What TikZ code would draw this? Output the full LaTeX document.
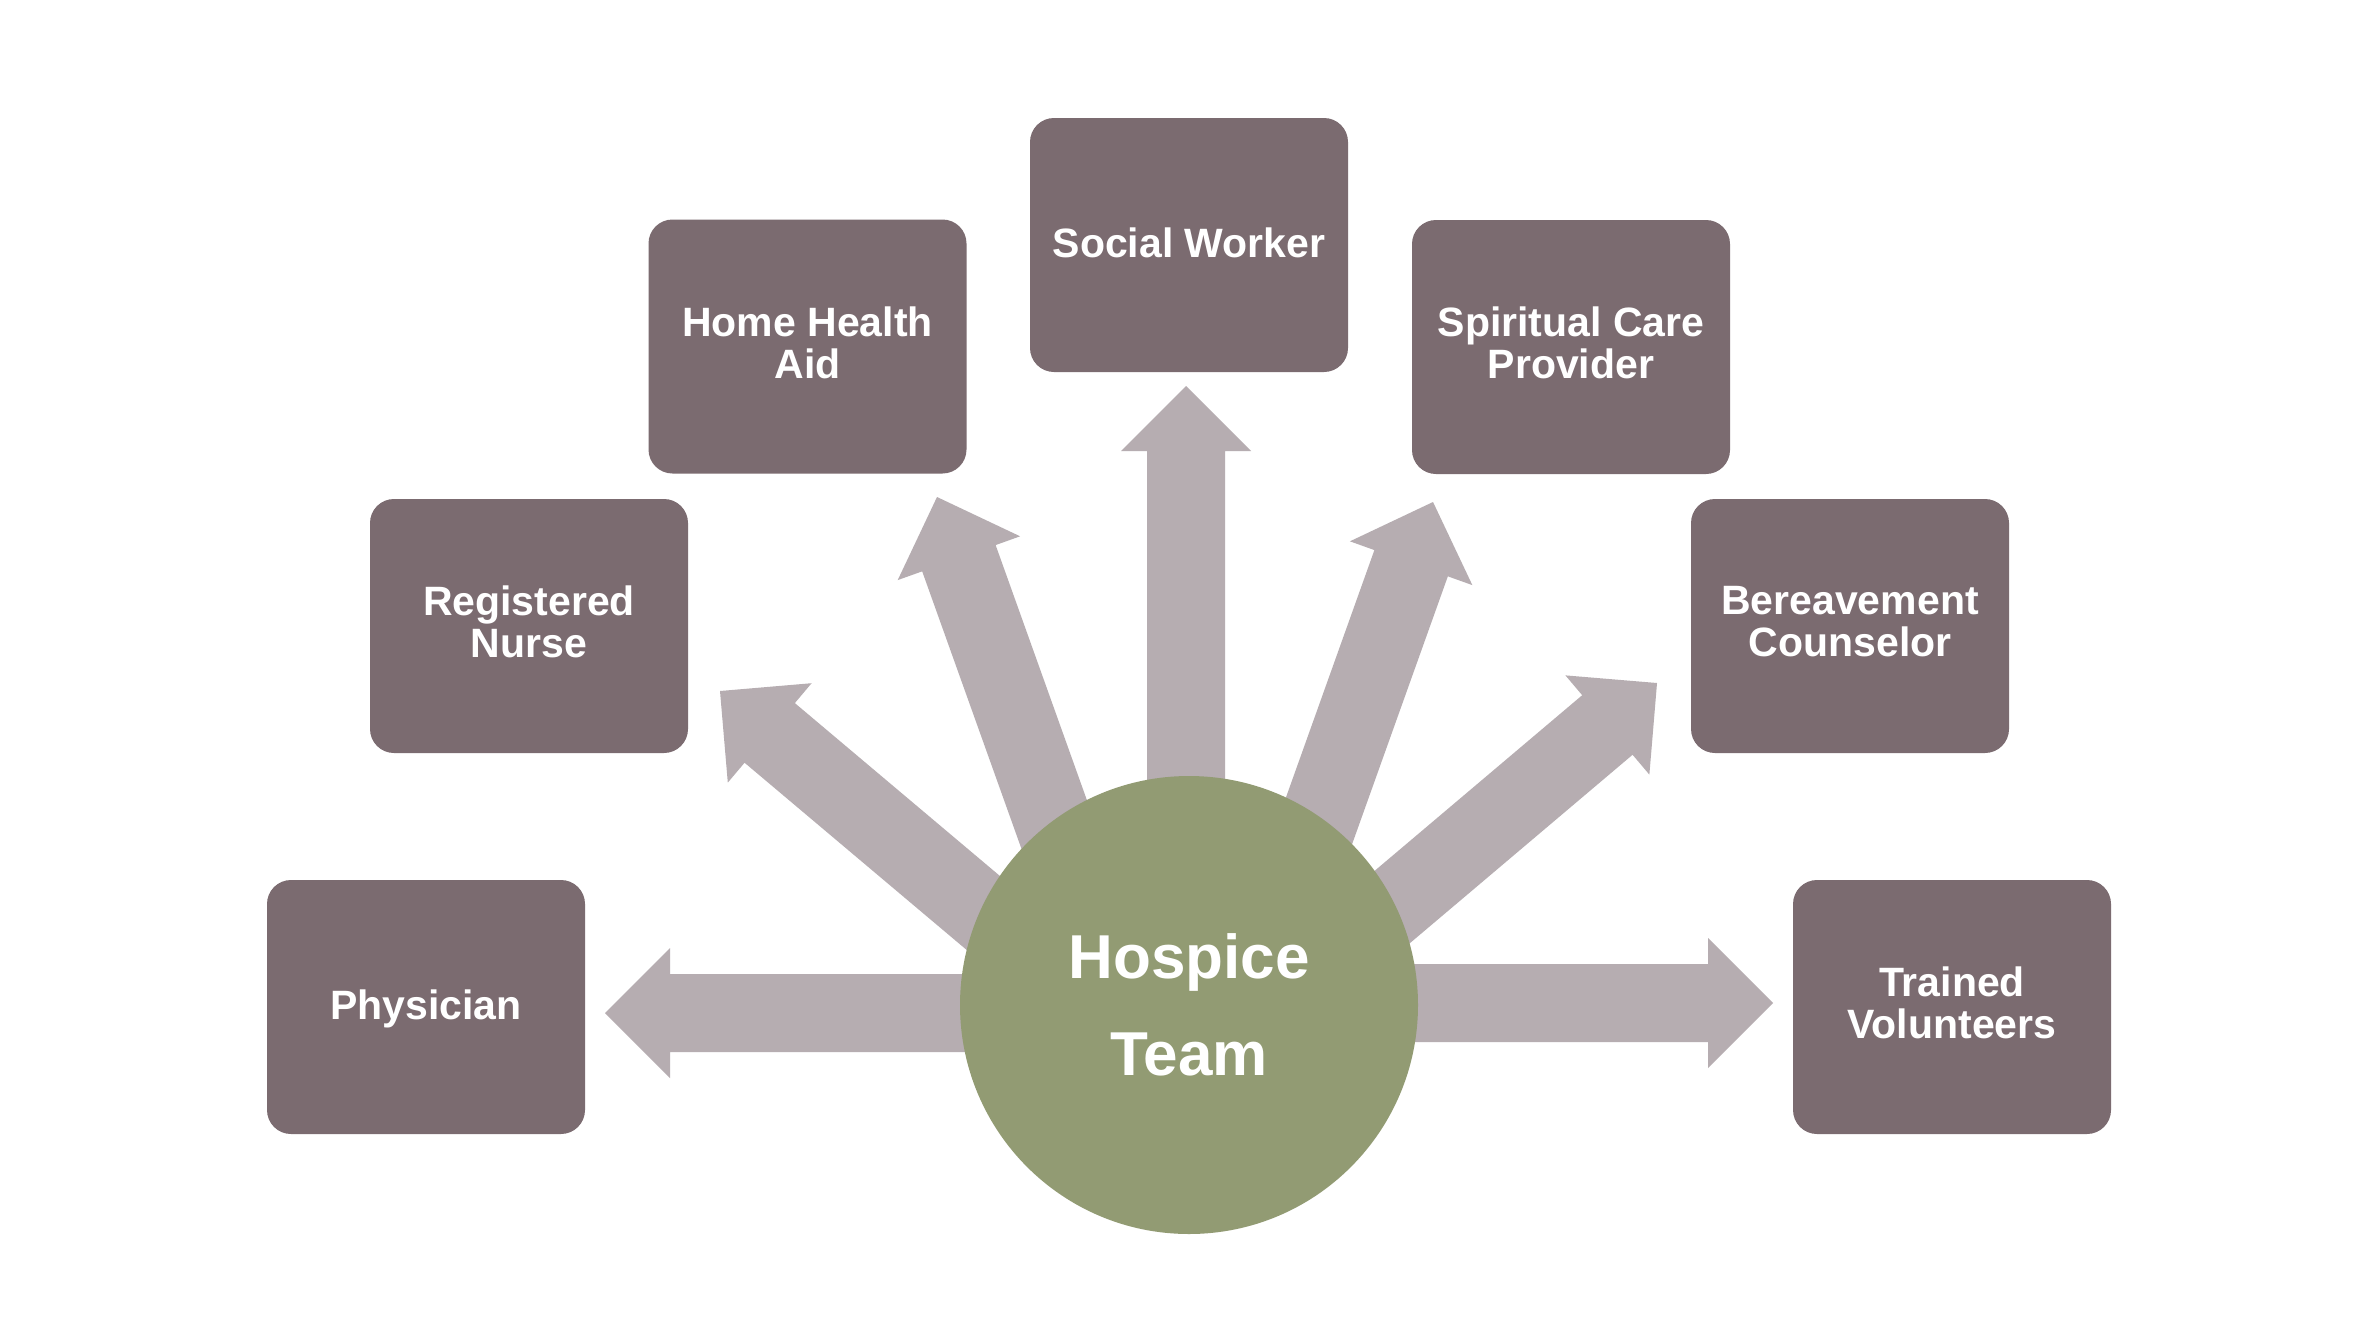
\documentclass[tikz,border=0pt]{standalone}
\usepackage{fontspec}
\setmainfont{Liberation Sans}
\usetikzlibrary{calc}
\definecolor{boxc}{HTML}{7B6B70}
\definecolor{arrowc}{HTML}{B6ADB1}
\definecolor{hubc}{HTML}{929B73}
\tikzset{
  rolebox/.style={fill=boxc, rounded corners=24pt, minimum width=318pt, minimum height=254pt,
    inner sep=0pt},
  roletext/.style={inner sep=0pt, align=center, text=white, yshift=4pt,
    font=\bfseries\fontsize{41}{42}\selectfont},
  hubnode/.style={circle, fill=hubc, minimum size=458pt, inner sep=0pt, align=center,
    text=white, font=\bfseries\fontsize{62}{97}\selectfont},
  blockarrow/.style={to path={
    let \p1=($(\tikztotarget)!65pt!(\tikztostart)$) in
    -- ($(\tikztostart)!39pt!90:(\tikztotarget)$)
    -- ($(\p1)!39pt!90:(\tikztotarget)$)
    -- ($(\p1)!65pt!90:(\tikztotarget)$)
    -- (\tikztotarget)
    -- ($(\p1)!65pt!-90:(\tikztotarget)$)
    -- ($(\p1)!39pt!-90:(\tikztotarget)$)
    -- ($(\tikztostart)!39pt!-90:(\tikztotarget)$)
    -- cycle}}
}
\begin{document}
\begin{tikzpicture}[x=1pt,y=-1pt]
\useasboundingbox[fill=white] (0,0) rectangle (2365,1341);
% arrow ends
\coordinate (a1s) at (1189,1013);   \coordinate (a1t) at (605,1013);
\coordinate (a2s) at (1150,1053.5); \coordinate (a2t) at (720,691);
\coordinate (a3s) at (1127,1028);   \coordinate (a3t) at (937,497);
\coordinate (a4s) at (1186,1006);   \coordinate (a4t) at (1186,386);
\coordinate (a5s) at (1246,1025);   \coordinate (a5t) at (1433,502);
\coordinate (a6s) at (1225,1048.5); \coordinate (a6t) at (1657,683);
\coordinate (a7s) at (1189,1003);   \coordinate (a7t) at (1773,1003);
\foreach \i in {1,...,7}{
  \fill[arrowc] (a\i s) to[blockarrow] (a\i t);
}
\node[hubnode] (hub) at (1189,1005) {Hospice\\Team};
\node[rolebox, label={[roletext, yshift=-6pt]center:Physician}] (phys) at (426,1007) {};
\node[rolebox, label={[roletext]center:Registered\\Nurse}] (nurse) at (529,626) {};
\node[rolebox, label={[roletext]center:Home Health\\Aid}] (home) at (807.5,346.5) {};
\node[rolebox, label={[roletext, yshift=-2pt]center:Social Worker}] (social) at (1189,245) {};
\node[rolebox, label={[roletext]center:Spiritual Care\\Provider}] (spirit) at (1571,347) {};
\node[rolebox, label={[roletext]center:Bereavement\\Counselor}] (bereave) at (1850,626) {};
\node[rolebox, label={[roletext]center:Trained\\Volunteers}] (vol) at (1952,1007) {};
\end{tikzpicture}
\end{document}
